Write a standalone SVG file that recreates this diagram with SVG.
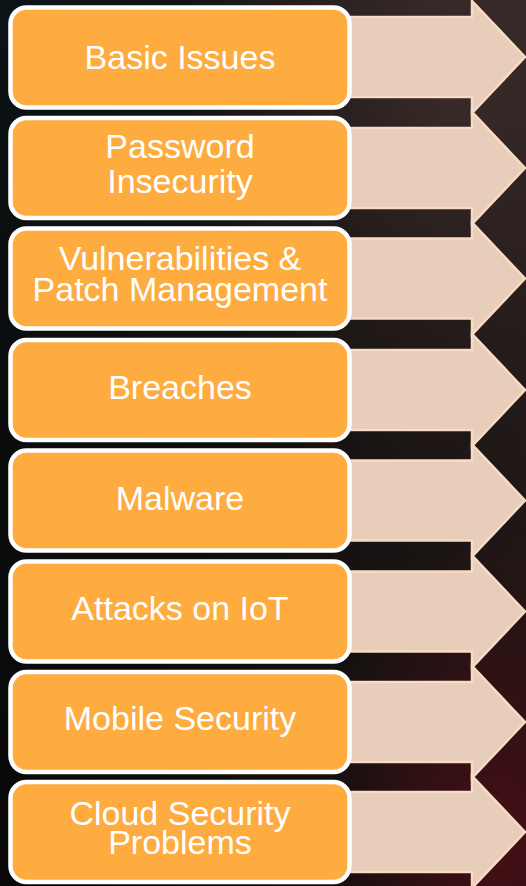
<svg xmlns="http://www.w3.org/2000/svg" width="526" height="886" viewBox="0 0 526 886">
  <defs>
    <linearGradient id="bg" x1="0" y1="0" x2="1" y2="0.6">
      <stop offset="0" stop-color="#0b1316"/>
      <stop offset="0.55" stop-color="#1a1818"/>
      <stop offset="1" stop-color="#3a2b29"/>
    </linearGradient>
    <radialGradient id="glowTop" cx="0.85" cy="0.12" r="0.5">
      <stop offset="0" stop-color="#4a3532" stop-opacity="0.7"/>
      <stop offset="1" stop-color="#4a3532" stop-opacity="0"/>
    </radialGradient>
    <radialGradient id="glowRed" cx="0.95" cy="0.95" r="0.35">
      <stop offset="0" stop-color="#4a0f16" stop-opacity="0.9"/>
      <stop offset="1" stop-color="#4a0f16" stop-opacity="0"/>
    </radialGradient>
    <linearGradient id="darkBottom" x1="0" y1="0" x2="0" y2="1">
      <stop offset="0" stop-color="#000" stop-opacity="0"/>
      <stop offset="0.45" stop-color="#000" stop-opacity="0.4"/>
      <stop offset="1" stop-color="#000" stop-opacity="0.65"/>
    </linearGradient>
    <path id="arrow" d="M345,-40 H472 V-56 L525,0 L472,56 V40 H345 Z"/>
  </defs>
  <style>
    .box { fill: #FEAB40; stroke: #FFFFFF; stroke-width: 4.5; }
    .arr { fill: #E8CDBA; stroke: #F7DBC4; stroke-width: 2.5; stroke-linejoin: miter; }
    .lbl { fill: #FFFFFF; font-family: "Liberation Sans", Arial, Helvetica, sans-serif; font-size: 34px; text-anchor: middle; }
  </style>

  <rect x="0" y="0" width="526" height="886" fill="url(#bg)"/>
  <rect x="0" y="0" width="526" height="886" fill="url(#glowTop)"/>
  <rect x="0" y="0" width="526" height="886" fill="url(#darkBottom)"/>
  <rect x="0" y="0" width="526" height="886" fill="url(#glowRed)"/>

  <g id="connectors">
    <use href="#arrow" class="arr" transform="translate(0,57)"/>
    <use href="#arrow" class="arr" transform="translate(0,168)"/>
    <use href="#arrow" class="arr" transform="translate(0,278.5)"/>
    <use href="#arrow" class="arr" transform="translate(0,390)"/>
    <use href="#arrow" class="arr" transform="translate(0,500.5)"/>
    <use href="#arrow" class="arr" transform="translate(0,611.5)"/>
    <use href="#arrow" class="arr" transform="translate(0,722)"/>
    <use href="#arrow" class="arr" transform="translate(0,832)"/>
  </g>

  <g id="n1">
    <rect class="box" x="10.5" y="7.5" width="339" height="100" rx="16"/>
    <text class="lbl" x="180" y="69">Basic Issues</text>
  </g>
  <g id="n2">
    <rect class="box" x="10.5" y="118" width="339" height="100" rx="16"/>
    <text class="lbl" x="180" y="158">Password</text>
    <text class="lbl" x="180" y="193">Insecurity</text>
  </g>
  <g id="n3">
    <rect class="box" x="10.5" y="228.5" width="339" height="100" rx="16"/>
    <text class="lbl" x="180" y="270">Vulnerabilities &amp;</text>
    <text class="lbl" x="180" y="301">Patch Management</text>
  </g>
  <g id="n4">
    <rect class="box" x="10.5" y="340" width="339" height="100" rx="16"/>
    <text class="lbl" x="180" y="398.5">Breaches</text>
  </g>
  <g id="n5">
    <rect class="box" x="10.5" y="450.5" width="339" height="100" rx="16"/>
    <text class="lbl" x="180" y="509.5">Malware</text>
  </g>
  <g id="n6">
    <rect class="box" x="10.5" y="561.5" width="339" height="100" rx="16"/>
    <text class="lbl" x="180" y="619.5">Attacks on IoT</text>
  </g>
  <g id="n7">
    <rect class="box" x="10.5" y="672" width="339" height="100" rx="16"/>
    <text class="lbl" x="180" y="730">Mobile Security</text>
  </g>
  <g id="n8">
    <rect class="box" x="10.5" y="782" width="339" height="100" rx="16"/>
    <text class="lbl" x="180" y="825">Cloud Security</text>
    <text class="lbl" x="180" y="854">Problems</text>
  </g>
</svg>
